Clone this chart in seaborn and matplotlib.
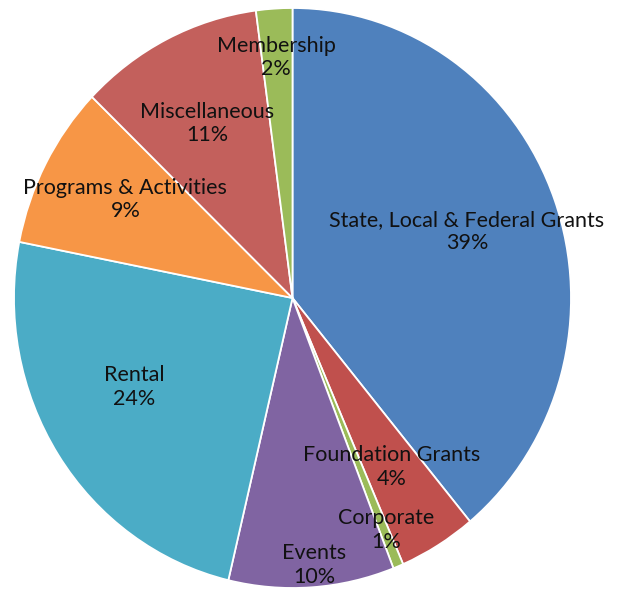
import matplotlib
matplotlib.use("Agg")
import matplotlib.pyplot as plt
import seaborn as sns

sns.set_theme(style="white")
plt.rcParams['font.family'] = ['Lato', 'DejaVu Sans']

categories = ["State, Local & Federal Grants", "Foundation Grants", "Corporate",
              "Events", "Rental", "Programs & Activities", "Miscellaneous", "Membership"]
values = [39.0, 4.5, 0.6, 9.6, 24.4, 9.1, 10.7, 2.1]
pct_labels = ["39%", "4%", "1%", "10%", "24%", "9%", "11%", "2%"]
colors = ["#4F81BD", "#C0504D", "#9BBB59", "#8064A2", "#4BACC6", "#F79646", "#C3605C", "#9BBB59"]
# label anchor positions (normalized pie coordinates)
label_x = [0.626, 0.356, 0.335, 0.079, -0.568, -0.600, -0.306, -0.058]
label_y = [0.228, -0.583, -0.800, -0.921, -0.307, 0.341, 0.603, 0.828]

W, H = 618, 589
fig = plt.figure(figsize=(W / 100, H / 100), dpi=100)
# pie bounding box in pixels: left 14, right 571, top 8, bottom 588
l, r, t, b = 14, 571, 8, 588
ax = fig.add_axes([l / W, 1 - b / H, (r - l) / W, (b - t) / H])
ax.pie(values, colors=colors, startangle=90, counterclock=False,
       wedgeprops=dict(edgecolor="white", linewidth=1.3))
ax.set_aspect("auto")
ax.set_xlim(-1, 1)
ax.set_ylim(-1, 1)
ax.axis("off")

for name, pct, x, y in zip(categories, pct_labels, label_x, label_y):
    ax.text(x, y, f"{name}\n{pct}", ha="center", va="center", fontsize=15.5,
            color="#111111", linespacing=1.2, clip_on=False)

fig.savefig("out.png", dpi=100)
